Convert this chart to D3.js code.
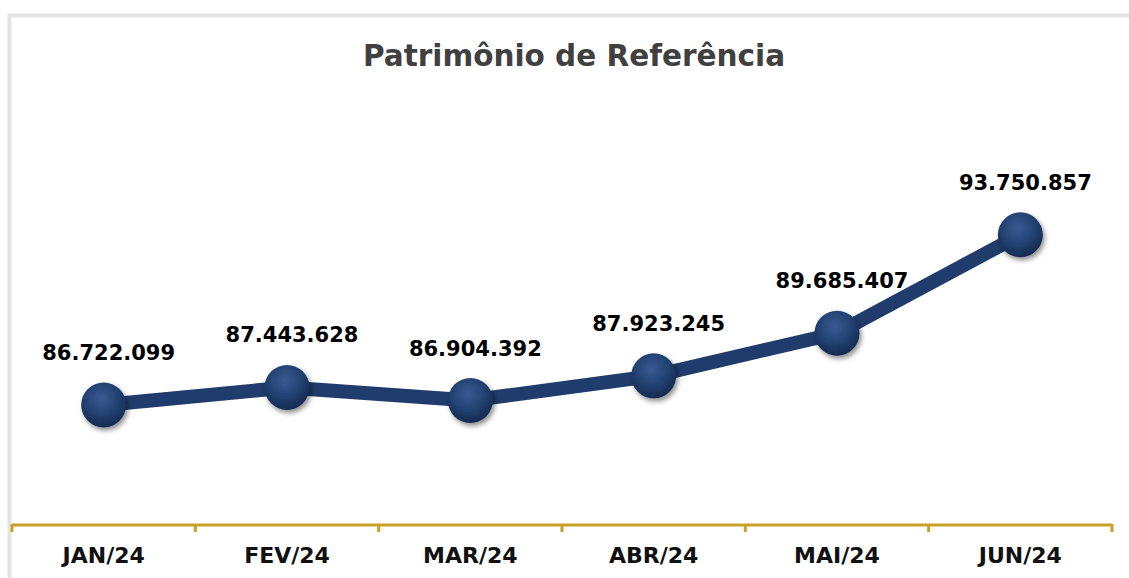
<!DOCTYPE html>
<html>
<head>
<meta charset="utf-8">
<script src="https://cdn.jsdelivr.net/npm/d3@7"></script>
<style>
  body { margin: 0; background: #fff; }
  text { font-family: "DejaVu Sans", sans-serif; }
</style>
</head>
<body>
<div id="chart"></div>
<script>
const months = ["JAN/24", "FEV/24", "MAR/24", "ABR/24", "MAI/24", "JUN/24"];
const values = [86722099, 87443628, 86904392, 87923245, 89685407, 93750857];
const labels = ["86.722.099", "87.443.628", "86.904.392", "87.923.245", "89.685.407", "93.750.857"];

const width = 1129;
const height = 578;
const margin = { top: 200, right: 17, bottom: 53, left: 12 };

const data = months.map((m, i) => ({ month: m, value: values[i], label: labels[i] }));

const svg = d3.select("#chart")
  .append("svg")
  .attr("width", width)
  .attr("height", height);

const defs = svg.append("defs");

// ball gradient
const grad = defs.append("radialGradient")
  .attr("id", "ball")
  .attr("cx", "45%").attr("cy", "35%").attr("r", "65%");
grad.append("stop").attr("offset", "0%").attr("stop-color", "#3a5a92");
grad.append("stop").attr("offset", "60%").attr("stop-color", "#21406f");
grad.append("stop").attr("offset", "100%").attr("stop-color", "#142a4f");

const shadow = defs.append("filter")
  .attr("id", "shadow")
  .attr("x", "-50%").attr("y", "-50%").attr("width", "200%").attr("height", "200%");
shadow.append("feDropShadow")
  .attr("dx", 2).attr("dy", 3).attr("stdDeviation", 2.5)
  .attr("flood-color", "#000").attr("flood-opacity", 0.45);

// frame
svg.append("path")
  .attr("d", `M9.5,${height} V15.5 H${width}`)
  .attr("fill", "none")
  .attr("stroke", "#e3e3e3")
  .attr("stroke-width", 4);

svg.append("text")
  .attr("x", 574)
  .attr("y", 66)
  .attr("text-anchor", "middle")
  .attr("font-size", 29.5)
  .attr("font-weight", "bold")
  .attr("fill", "#404040")
  .text("Patrimônio de Referência");

const x = d3.scaleBand()
  .domain(months)
  .range([margin.left, width - margin.right]);

const y = d3.scaleLinear()
  .domain([81760000, 95000000])
  .range([height - margin.bottom, height - margin.bottom - 13.24 * 24.2]);

const cx = d => x(d.month) + x.bandwidth() / 2;

// axis
const axis = svg.append("g")
  .attr("transform", `translate(0,${height - margin.bottom})`);
axis.append("line")
  .attr("x1", margin.left).attr("x2", width - margin.right)
  .attr("stroke", "#c9a128").attr("stroke-width", 3);
axis.selectAll(".tick")
  .data(d3.range(months.length + 1))
  .join("line")
    .attr("x1", i => margin.left + i * x.step())
    .attr("x2", i => margin.left + i * x.step())
    .attr("y1", -1).attr("y2", 7)
    .attr("stroke", "#c9a128").attr("stroke-width", 3);
axis.selectAll(".lbl")
  .data(months)
  .join("text")
    .attr("x", d => x(d) + x.bandwidth() / 2)
    .attr("y", 38)
    .attr("text-anchor", "middle")
    .attr("font-size", 22)
    .attr("font-weight", "bold")
    .attr("fill", "#111")
    .text(d => d);

// line
svg.append("path")
  .datum(data)
  .attr("fill", "none")
  .attr("stroke", "#1f3c6c")
  .attr("stroke-width", 14)
  .attr("stroke-linejoin", "round")
  .attr("d", d3.line().x(cx).y(d => y(d.value)));

// markers
svg.append("g")
  .selectAll("circle")
  .data(data)
  .join("circle")
    .attr("cx", cx)
    .attr("cy", d => y(d.value))
    .attr("r", 22.5)
    .attr("fill", "url(#ball)")
    .attr("filter", "url(#shadow)");

// value labels
svg.append("g")
  .selectAll("text")
  .data(data)
  .join("text")
    .attr("x", d => cx(d) + 5)
    .attr("y", d => y(d.value) - 45)
    .attr("text-anchor", "middle")
    .attr("font-size", 21)
    .attr("font-weight", "bold")
    .attr("fill", "#000")
    .text(d => d.label);
</script>
</body>
</html>
